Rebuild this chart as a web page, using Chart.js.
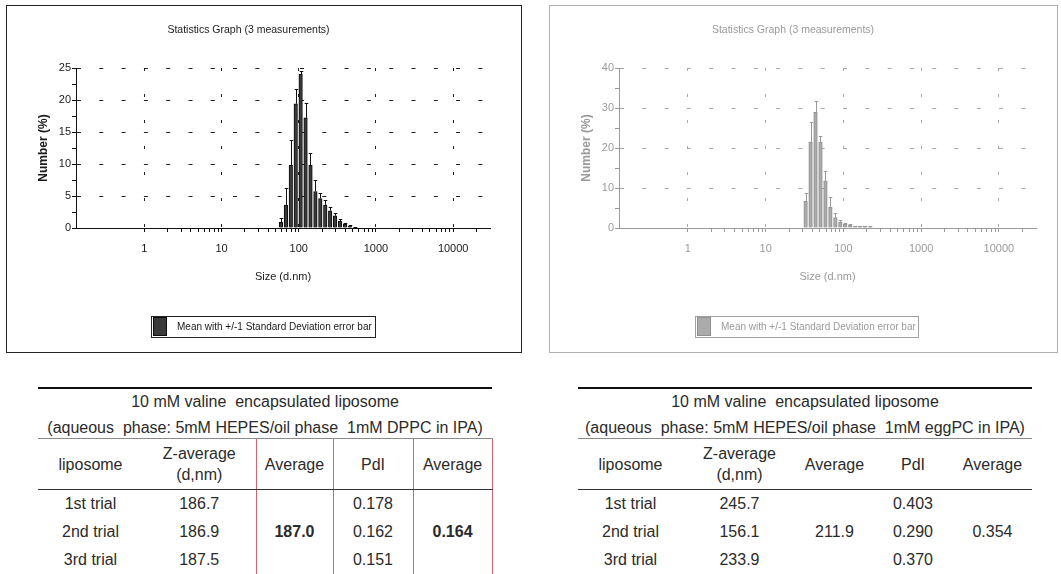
<!DOCTYPE html>
<html>
<head>
<meta charset="utf-8">
<title>Liposome size distribution</title>
<script src="https://cdn.jsdelivr.net/npm/chart.js@4.4.1/dist/chart.umd.min.js"></script>
<style>
  html, body { margin: 0; padding: 0; background: #fff; }
  body { position: relative; width: 1061px; height: 574px; overflow: hidden; font-family: 'Liberation Sans', Arial, sans-serif; }
  .panel { position: absolute; top: 5px; height: 346px; background: #fff; }
  #panel-dppc { left: 6px; width: 514px; border: 1px solid #222; }
  #panel-egg { left: 549px; width: 507px; border: 1px solid #b0b0b0; }
  .panel canvas { position: absolute; left: 0; top: 0; }
  .legend { position: absolute; top: 310px; height: 20px; border: 1px solid; white-space: nowrap;
            font: 10px 'Liberation Sans', sans-serif; }
  .legend .swatch { position: absolute; left: 1px; top: 0px; width: 12px; height: 17px; border: 1px solid; }
  .legend .label { position: absolute; left: 25px; top: 0; line-height: 20px; }
  #legend-dppc { left: 144px; width: 223px; border-color: #222; color: #1a1a1a; }
  #legend-dppc .swatch { background: #3a3a3a; border-color: #0d0d0d; }
  #legend-egg { left: 145px; width: 222px; border-color: #a0a0a0; color: #9a9a9a; }
  #legend-egg .swatch { background: #ababab; border-color: #909090; }

  table.stats { position: absolute; top: 387px; width: 454px; border-collapse: collapse; table-layout: fixed;
                font-size: 16px; color: #2b2b2b; text-align: center; border-top: 2px solid #111; }
  #table-dppc { left: 38px; }
  #table-egg { left: 578px; }
  table.stats td { padding: 0; white-space: pre; }
  table.stats tr.cap td { height: 49px; vertical-align: top; border-bottom: 1px solid #8a8a8a; }
  table.stats tr.cap div { height: 25px; line-height: 25px; }
  table.stats tr.cap div.l2 { height: 24px; position: relative; top: 1px; }
  table.stats tr.hdr td { height: 50px; line-height: 21px; border-bottom: 1px solid #333; }
  table.stats tr.row td { height: 28px; line-height: 28px; }
  table.stats tr.last td { border-bottom: 1px solid #555; }
  table.stats td.mean { vertical-align: middle; }
  table.boxed td.c2, table.boxed td.c4 { border-left: 1px solid #e35d6a; border-right: 1px solid #e35d6a; }
  table.boxed td.mean { font-weight: bold; }
</style>
</head>
<body>

<div class="panel" id="panel-dppc">
  <canvas id="chart-dppc" width="514" height="346"></canvas>
  <div class="legend" id="legend-dppc"><span class="swatch"></span><span class="label">Mean with +/-1 Standard Deviation error bar</span></div>
</div>

<div class="panel" id="panel-egg">
  <canvas id="chart-egg" width="507" height="346"></canvas>
  <div class="legend" id="legend-egg"><span class="swatch"></span><span class="label">Mean with +/-1 Standard Deviation error bar</span></div>
</div>

<table class="stats boxed" id="table-dppc"></table>
<table class="stats" id="table-egg"></table>

<script>
/* ---------------------------------------------------------
   Size distribution by number (3 measurements) + Z-average / PdI tables
   --------------------------------------------------------- */

// DPPC liposomes: size bins (d.nm), mean number %, +1 SD
const binSizesDPPC = [58.77, 68.06, 78.82, 91.28, 105.7, 122.4, 141.8, 164.2, 190.1, 220.2, 255.0, 295.3, 342.0, 396.1, 458.7, 531.2];
const numberDPPC   = [0.9, 3.6, 9.8, 19.4, 24.0, 17.2, 9.8, 5.7, 4.6, 3.6, 2.7, 1.9, 1.1, 0.6, 0.3, 0.1];
const sdDPPC       = [0.7, 2.6, 3.9, 2.3, 0.6, 2.3, 1.9, 1.8, 0.9, 0.7, 0.6, 0.4, 0.3, 0.2, 0.1, 0.05];

// eggPC liposomes
const binSizesEgg = [32.67, 37.84, 43.82, 50.75, 58.77, 68.06, 78.82, 91.28, 105.7, 122.4, 141.8, 164.2, 190.1, 220.2];
const numberEgg   = [6.7, 21.5, 28.9, 21.5, 11.8, 5.2, 2.6, 1.5, 1.0, 0.7, 0.5, 0.4, 0.4, 0.3];
const sdEgg       = [2.1, 5.0, 2.8, 1.5, 2.4, 2.5, 1.2, 0.5, 0.3, 0.2, 0.1, 0.1, 0.1, 0.1];

// axis ticks
const sizeTicks = [1, 2, 3, 4, 5, 6, 7, 8, 9,
                   10, 20, 30, 40, 50, 60, 70, 80, 90,
                   100, 200, 300, 400, 500, 600, 700, 800, 900,
                   1000, 2000, 3000, 4000, 5000, 6000, 7000, 8000, 9000,
                   10000, 20000];
const sizeLabels = [1, 10, 100, 1000, 10000];
const yTicksDPPC  = [0, 2.5, 5, 7.5, 10, 12.5, 15, 17.5, 20, 22.5, 25];
const yLabelsDPPC = [0, 5, 10, 15, 20, 25];
const yTicksEgg   = [0, 5, 10, 15, 20, 25, 30, 35, 40];
const yLabelsEgg  = [0, 10, 20, 30, 40];

// tables
const trialNames = ['1st trial', '2nd trial', '3rd trial'];
const columnHeads = ['liposome', 'Z-average\n(d,nm)', 'Average', 'PdI', 'Average'];
const captionDPPC = ['10 mM valine  encapsulated liposome', '(aqueous  phase: 5mM HEPES/oil phase  1mM DPPC in IPA)'];
const zAvgDPPC = ['186.7', '186.9', '187.5'];
const pdiDPPC  = ['0.178', '0.162', '0.151'];
const zMeanDPPC = '187.0';
const pdiMeanDPPC = '0.164';
const captionEgg = ['10 mM valine  encapsulated liposome', '(aqueous  phase: 5mM HEPES/oil phase  1mM eggPC in IPA)'];
const zAvgEgg = ['245.7', '156.1', '233.9'];
const pdiEgg  = ['0.403', '0.290', '0.370'];
const zMeanEgg = '211.9';
const pdiMeanEgg = '0.354';

const COL_WIDTHS = [105, 113, 77, 80, 79];
const CHART_FONT = "'Liberation Sans', Arial, sans-serif";

const THEMES = {
    dark: { text: '#1a1a1a', axis: '#111', grid: '#222', bar: '#3a3a3a', barEdge: '#0d0d0d', err: '#111' },
    faded: { text: '#9a9a9a', axis: '#9a9a9a', grid: '#a8a8a8', bar: '#ababab', barEdge: '#8f8f8f', err: '#9a9a9a' }
};

// Upward +1 SD whiskers on top of every bar
const errorBarPlugin = {
    id: 'errorBars',
    afterDatasetsDraw(chart, args, opts) {
        const ds = chart.data.datasets[0];
        const meta = chart.getDatasetMeta(0);
        const yScale = chart.scales.y;
        const c = chart.ctx;
        c.save();
        c.strokeStyle = opts.color;
        c.lineWidth = 1;
        meta.data.forEach((bar, i) => {
            const top = Math.round(yScale.getPixelForValue(ds.data[i].y + ds.sd[i])) + 0.5;
            const x = Math.round(bar.x) + 0.5;
            const half = bar.width / 2;
            c.beginPath();
            c.moveTo(x, bar.y);
            c.lineTo(x, top);
            c.moveTo(x - half, top);
            c.lineTo(x + half, top);
            c.stroke();
        });
        c.restore();
    }
};

function buildChart(canvasId, sizes, values, sd, yTicks, yLabels, yMax, theme, padRight) {
    const ctx = document.getElementById(canvasId);
    return new Chart(ctx, {
        type: 'bar',
        data: {
            datasets: [{
                data: sizes.map((s, i) => ({ x: s, y: values[i] })),
                sd: sd,
                backgroundColor: theme.bar,
                borderColor: theme.barEdge,
                borderWidth: 1,
                barPercentage: 1,
                categoryPercentage: 1,
            }]
        },
        options: {
            responsive: false,
            animation: false,
            events: [],
            layout: { padding: { left: 0, right: padRight, top: 0, bottom: 68 } },
            plugins: {
                legend: { display: false },
                tooltip: { enabled: false },
                title: {
                    display: true,
                    text: 'Statistics Graph (3 measurements)',
                    color: theme.text,
                    font: { family: CHART_FONT, size: 10.5, weight: 'normal' },
                    padding: { top: 18, bottom: 31.4 }
                },
                errorBars: { color: theme.err }
            },
            scales: {
                x: {
                    type: 'logarithmic',
                    min: 0.13,
                    max: 30000,
                    offset: false,
                    afterBuildTicks: axis => { axis.ticks = sizeTicks.map(v => ({ value: v })); },
                    afterFit: axis => { axis.height = 56; },
                    ticks: {
                        autoSkip: false, maxRotation: 0, minRotation: 0, padding: 10,
                        color: theme.text,
                        font: { family: CHART_FONT, size: 11 },
                        callback: v => sizeLabels.includes(v) ? String(v) : ''
                    },
                    grid: {
                        offset: false,
                        lineWidth: 1,
                        color: c => (c.tick && sizeLabels.includes(c.tick.value)) ? theme.grid : 'transparent',
                        tickColor: theme.axis,
                        tickWidth: 1,
                        tickLength: 4,
                        tickBorderDash: []
                    },
                    border: { color: theme.axis, width: 1, dash: [3, 23] },
                    title: {
                        display: true, text: 'Size (d.nm)', color: theme.text,
                        font: { family: CHART_FONT, size: 11 }, padding: 0
                    }
                },
                y: {
                    type: 'linear',
                    min: 0,
                    max: yMax,
                    afterBuildTicks: axis => { axis.ticks = yTicks.map(v => ({ value: v })); },
                    afterFit: axis => { axis.width = 69; },
                    ticks: {
                        autoSkip: false, padding: 1,
                        color: theme.text,
                        font: { family: CHART_FONT, size: 11 },
                        callback: v => yLabels.includes(v) ? String(v) : ''
                    },
                    grid: {
                        lineWidth: 1,
                        color: c => (c.tick && c.tick.value > 0 && yLabels.includes(c.tick.value)) ? theme.grid : 'transparent',
                        tickColor: theme.axis,
                        tickWidth: 1,
                        tickLength: 4,
                        tickBorderDash: []
                    },
                    border: { color: theme.axis, width: 1, dash: [4, 18.3] },
                    title: {
                        display: true, text: 'Number (%)', color: theme.text,
                        font: { family: CHART_FONT, size: 12, weight: 'bold' },
                        padding: { top: 29, bottom: 0 }
                    }
                }
            }
        },
        plugins: [errorBarPlugin]
    });
}

// Z-average / PdI summary table
function buildTable(tableId, caption, zAvg, zMean, pdi, pdiMean) {
    const t = document.getElementById(tableId);
    let html = '<colgroup>' + COL_WIDTHS.map(w => `<col style="width:${w}px">`).join('') + '</colgroup>';
    html += `<tr class="cap"><td colspan="5"><div>${caption[0]}</div><div class="l2">${caption[1]}</div></td></tr>`;
    html += '<tr class="hdr">' + columnHeads.map((h, i) => `<td class="c${i}">${h}</td>`).join('') + '</tr>';
    trialNames.forEach((name, r) => {
        html += `<tr class="row${r === trialNames.length - 1 ? ' last' : ''}">`;
        html += `<td>${name}</td><td>${zAvg[r]}</td>`;
        if (r === 0) html += `<td rowspan="${trialNames.length}" class="c2 mean">${zMean}</td>`;
        html += `<td>${pdi[r]}</td>`;
        if (r === 0) html += `<td rowspan="${trialNames.length}" class="c4 mean">${pdiMean}</td>`;
        html += '</tr>';
    });
    t.innerHTML = html;
}

buildChart('chart-dppc', binSizesDPPC, numberDPPC, sdDPPC, yTicksDPPC, yLabelsDPPC, 25, THEMES.dark, 31);
buildChart('chart-egg', binSizesEgg, numberEgg, sdEgg, yTicksEgg, yLabelsEgg, 40, THEMES.faded, 21);
buildTable('table-dppc', captionDPPC, zAvgDPPC, zMeanDPPC, pdiDPPC, pdiMeanDPPC);
buildTable('table-egg', captionEgg, zAvgEgg, zMeanEgg, pdiEgg, pdiMeanEgg);
</script>
</body>
</html>
